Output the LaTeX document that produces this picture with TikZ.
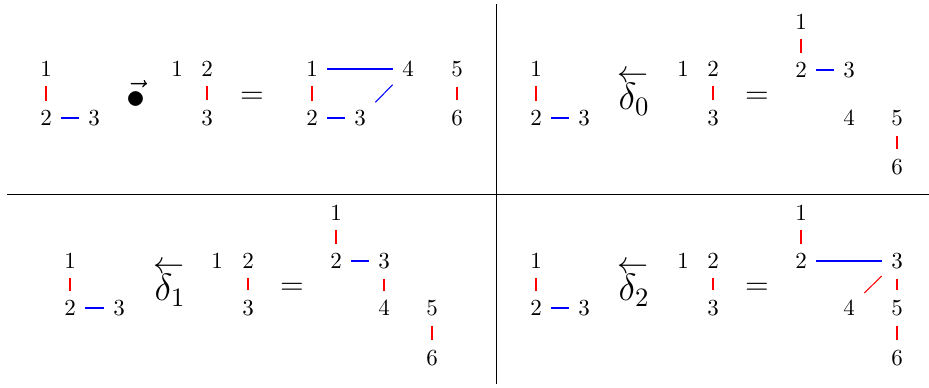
\documentclass[tikz,border=0pt]{standalone}
\usepackage{fix-cm}
\begin{document}
\begin{tikzpicture}[x=0.4348pt,y=-0.4348pt,
  v/.style={inner sep=4pt},
  rl/.style={draw=red,line width=0.45pt},
  bl/.style={draw=blue,line width=0.45pt},
  opf/.style={inner sep=0pt,font=\fontsize{13.5}{16}\selectfont},
  bul/.style={inner sep=0pt,anchor=base,font=\fontsize{16.5}{19}\selectfont},
  dlf/.style={inner sep=0pt,anchor=base,font=\fontsize{16.5}{19}\selectfont}]
\useasboundingbox (0,0) rectangle (929,387);
% frame
\coordinate (vt) at (496,4);
\coordinate (vb) at (496,384);
\coordinate (hl) at (7,194);
\coordinate (hr) at (929,194);
\draw (vt) -- (vb);
\draw (hl) -- (hr);

% ---------- panel 1 ----------
\node[v] (aL1) at (46,69) {1};
\node[v] (aL2) at (46,118) {2};
\node[v] (aL3) at (94,118) {3};
\path[rl] (aL1) -- (aL2);
\path[bl] (aL2) -- (aL3);
\node[bul] (aop) at (136,108.5) {$\vec{\bullet}$};
\node[v] (aM1) at (177,69) {1};
\node[v] (aM2) at (207,69) {2};
\node[v] (aM3) at (207,118) {3};
\path[rl] (aM2) -- (aM3);
\node[opf] (aeq) at (252,98) {$=$};
\node[v] (aR1) at (312,69) {1};
\node[v] (aR2) at (312,118) {2};
\node[v] (aR3) at (360,118) {3};
\node[v] (aR4) at (408,69) {4};
\node[v] (aR5) at (457,69) {5};
\node[v] (aR6) at (457,118) {6};
\path[rl] (aR1) -- (aR2);
\path[bl] (aR1) -- (aR4);
\path[bl] (aR2) -- (aR3);
\path[bl] (aR3) -- (aR4);
\path[rl] (aR5) -- (aR6);

% ---------- panel 2 ----------
\node[v] (bL1) at (536,69) {1};
\node[v] (bL2) at (536,118) {2};
\node[v] (bL3) at (584,118) {3};
\path[rl] (bL1) -- (bL2);
\path[bl] (bL2) -- (bL3);
\node[opf] (barr) at (633.5,77) {$\leftarrow$};
\node[dlf] (bdel) at (634,109.5) {$\delta_0$};
\node[v] (bM1) at (683,69) {1};
\node[v] (bM2) at (713,69) {2};
\node[v] (bM3) at (713,118) {3};
\path[rl] (bM2) -- (bM3);
\node[opf] (beq) at (757,98) {$=$};
\node[v] (bR1) at (801,22) {1};
\node[v] (bR2) at (801,70) {2};
\node[v] (bR3) at (849,70) {3};
\node[v] (bR4) at (849,118) {4};
\node[v] (bR5) at (897,118) {5};
\node[v] (bR6) at (897,167) {6};
\path[rl] (bR1) -- (bR2);
\path[bl] (bR2) -- (bR3);
\path[rl] (bR5) -- (bR6);

% ---------- panel 3 ----------
\node[v] (cL1) at (70,261) {1};
\node[v] (cL2) at (70,308) {2};
\node[v] (cL3) at (119,308) {3};
\path[rl] (cL1) -- (cL2);
\path[bl] (cL2) -- (cL3);
\node[opf] (carr) at (169,268) {$\leftarrow$};
\node[dlf] (cdel) at (170,300.5) {$\delta_1$};
\node[v] (cM1) at (217,261) {1};
\node[v] (cM2) at (248,261) {2};
\node[v] (cM3) at (248,308) {3};
\path[rl] (cM2) -- (cM3);
\node[opf] (ceq) at (292,289) {$=$};
\node[v] (cR1) at (336,213) {1};
\node[v] (cR2) at (336,261) {2};
\node[v] (cR3) at (384,261) {3};
\node[v] (cR4) at (384,308) {4};
\node[v] (cR5) at (432,308) {5};
\node[v] (cR6) at (432,358) {6};
\path[rl] (cR1) -- (cR2);
\path[bl] (cR2) -- (cR3);
\path[rl] (cR3) -- (cR4);
\path[rl] (cR5) -- (cR6);

% ---------- panel 4 ----------
\node[v] (dL1) at (536,261) {1};
\node[v] (dL2) at (536,308) {2};
\node[v] (dL3) at (584,308) {3};
\path[rl] (dL1) -- (dL2);
\path[bl] (dL2) -- (dL3);
\node[opf] (darr) at (633.5,268) {$\leftarrow$};
\node[dlf] (ddel) at (634,300.5) {$\delta_2$};
\node[v] (dM1) at (683,261) {1};
\node[v] (dM2) at (713,261) {2};
\node[v] (dM3) at (713,308) {3};
\path[rl] (dM2) -- (dM3);
\node[opf] (deq) at (757,289) {$=$};
\node[v] (dR1) at (801,213) {1};
\node[v] (dR2) at (801,261) {2};
\node[v] (dR3) at (897,261) {3};
\node[v] (dR4) at (849,308) {4};
\node[v] (dR5) at (897,308) {5};
\node[v] (dR6) at (897,358) {6};
\path[rl] (dR1) -- (dR2);
\path[bl] (dR2) -- (dR3);
\path[rl] (dR3) -- (dR4);
\path[rl] (dR3) -- (dR5);
\path[rl] (dR5) -- (dR6);
\end{tikzpicture}
\end{document}
